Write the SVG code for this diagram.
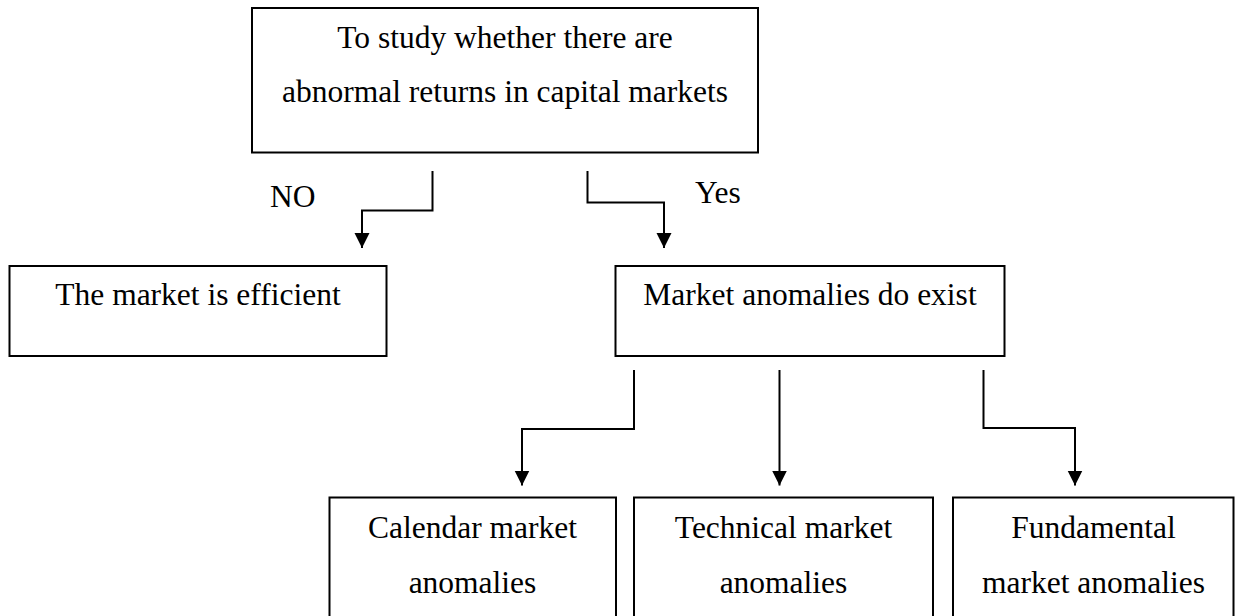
<svg xmlns="http://www.w3.org/2000/svg" width="1241" height="616" viewBox="0 0 1241 616">
<style>
.box{fill:#fff;stroke:#000;stroke-width:2}
.t{font-family:"Liberation Serif","Times New Roman",serif;font-size:31.5px;fill:#000;text-anchor:middle}
.c{fill:none;stroke:#000;stroke-width:2}
.lbl{font-family:"Liberation Serif","Times New Roman",serif;font-size:31.5px;fill:#000}
</style>
<defs>
<marker id="ah" markerUnits="userSpaceOnUse" markerWidth="16" markerHeight="16" viewBox="0 0 16 16" refX="15" refY="8" orient="auto">
<path d="M0,0.5 L15,8 L0,15.5 Z" fill="#000"/>
</marker>
</defs>
<rect width="1241" height="616" fill="#fff"/>
<g id="n-top">
<rect class="box" x="252" y="8" width="506" height="144.5"/>
<text class="t" x="505" y="47.5">To study whether there are</text>
<text class="t" x="505" y="101.5">abnormal returns in capital markets</text>
</g>
<g id="n-efficient">
<rect class="box" x="9.5" y="266" width="377" height="90"/>
<text class="t" x="198" y="305">The market is efficient</text>
</g>
<g id="n-anomalies">
<rect class="box" x="615.5" y="266" width="389" height="90"/>
<text class="t" x="810" y="305">Market anomalies do exist</text>
</g>
<g id="n-calendar">
<rect class="box" x="329.5" y="497.5" width="286.5" height="130"/>
<text class="t" x="472.5" y="537.5">Calendar market</text>
<text class="t" x="472.5" y="592.5">anomalies</text>
</g>
<g id="n-technical">
<rect class="box" x="634" y="497.5" width="299" height="130"/>
<text class="t" x="783.5" y="537.5">Technical market</text>
<text class="t" x="783.5" y="592.5">anomalies</text>
</g>
<g id="n-fundamental">
<rect class="box" x="953" y="497.5" width="280.5" height="130"/>
<text class="t" x="1093.5" y="537.5">Fundamental</text>
<text class="t" x="1093.5" y="592.5">market anomalies</text>
</g>
<g id="connectors">
<path class="c" d="M432.5,171 V210.5 H362 V248" marker-end="url(#ah)"/>
<path class="c" d="M587.5,171 V202.5 H664 V248" marker-end="url(#ah)"/>
<path class="c" d="M634,370 V429 H522 V485.5" marker-end="url(#ah)"/>
<path class="c" d="M779.5,370 V485.5" marker-end="url(#ah)"/>
<path class="c" d="M983.5,370 V428 H1075 V485.5" marker-end="url(#ah)"/>
<text class="lbl" x="270" y="206.5">NO</text>
<text class="lbl" x="695" y="202.5">Yes</text>
</g>
</svg>
